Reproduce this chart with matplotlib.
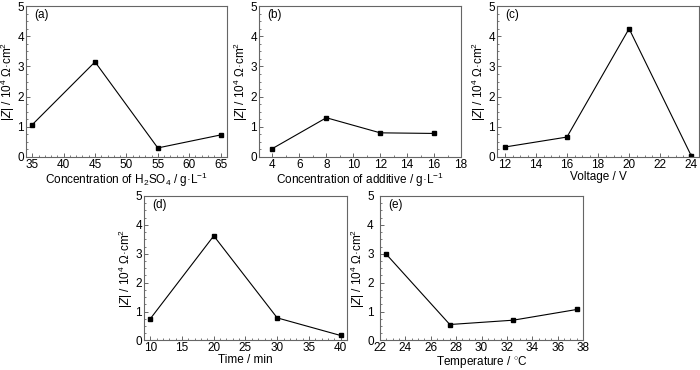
import matplotlib
matplotlib.use("Agg")
import matplotlib.pyplot as plt
from matplotlib.ticker import MultipleLocator

plt.rcParams['font.family'] = ['Liberation Sans', 'DejaVu Sans']
plt.rcParams['mathtext.fontset'] = 'custom'
plt.rcParams['mathtext.rm'] = 'Liberation Sans'
plt.rcParams['mathtext.it'] = 'Liberation Sans:italic'

# Data
h2so4 = [35, 45, 55, 65]
z_h2so4 = [1.07, 3.15, 0.30, 0.73]

additive = [4, 8, 12, 16]
z_additive = [0.28, 1.30, 0.80, 0.78]

voltage = [12, 16, 20, 24]
z_voltage = [0.33, 0.66, 4.25, 0.04]

time_min = [10, 20, 30, 40]
z_time = [0.75, 3.62, 0.78, 0.17]

temperature = [22.5, 27.5, 32.5, 37.5]
z_temperature = [2.98, 0.55, 0.70, 1.07]

ylabel = r'|$\mathit{Z}$| / 10$^{4}$ $\Omega$·cm$^{2}$'

panels = [
    dict(x=h2so4, y=z_h2so4, tag='(a)', xlabel=r'Concentration of H$_2$SO$_4$ / g·L$^{-1}$',
         xlim=(34, 66), major=5, minor=1, xpad=1.5, ypad=1.5, pos=[0.0371, 0.5757, 0.287, 0.408]),
    dict(x=additive, y=z_additive, tag='(b)', xlabel=r'Concentration of additive / g·L$^{-1}$',
         xlim=(3, 18), major=2, minor=1, xpad=1.5, ypad=1.5, pos=[0.370, 0.5757, 0.2886, 0.408]),
    dict(x=voltage, y=z_voltage, tag='(c)', xlabel='Voltage / V',
         xlim=(11.5, 24.5), major=2, minor=0.5, xpad=1.5, ypad=1.5, pos=[0.710, 0.5757, 0.2886, 0.408]),
    dict(x=time_min, y=z_time, tag='(d)', xlabel='Time / min',
         xlim=(9, 41), major=5, minor=1, xpad=1.5, ypad=1.5, pos=[0.2057, 0.0800, 0.290, 0.3903]),
    dict(x=temperature, y=z_temperature, tag='(e)', xlabel=r'Temperature / $^{\circ}$C',
         xlim=(22, 38), major=2, minor=0.5, xpad=1.5, ypad=4.5, pos=[0.5429, 0.0800, 0.290, 0.3903]),
]

fig = plt.figure(figsize=(7, 3.7), dpi=100)
spine_col = '#666666'
for p in panels:
    ax = fig.add_axes(p['pos'])
    ax.plot(p['x'], p['y'], color='black', lw=0.8, marker='s', ms=3.5)
    ax.set_xlim(*p['xlim'])
    ax.set_ylim(0, 5)
    ax.xaxis.set_major_locator(MultipleLocator(p['major']))
    ax.xaxis.set_minor_locator(MultipleLocator(p['minor']))
    ax.yaxis.set_major_locator(MultipleLocator(1))
    ax.yaxis.set_minor_locator(MultipleLocator(0.25))
    ax.tick_params(which='both', direction='in', color=spine_col, labelsize=8.5)
    ax.tick_params(axis='x', which='both', pad=p['xpad'])
    ax.tick_params(axis='y', which='both', pad=p['ypad'])
    ax.tick_params(which='major', length=3, width=0.7)
    ax.tick_params(which='minor', length=1.5, width=0.6)
    for s in ax.spines.values():
        s.set_color(spine_col)
        s.set_linewidth(0.8)
    ax.set_xlabel(p['xlabel'], fontsize=8.5, labelpad=0)
    ax.set_ylabel(ylabel, fontsize=8.5, labelpad=0)
    ax.text(0.04, 0.92, p['tag'], transform=ax.transAxes, fontsize=8.5)

fig.savefig('out.png', dpi=100)
